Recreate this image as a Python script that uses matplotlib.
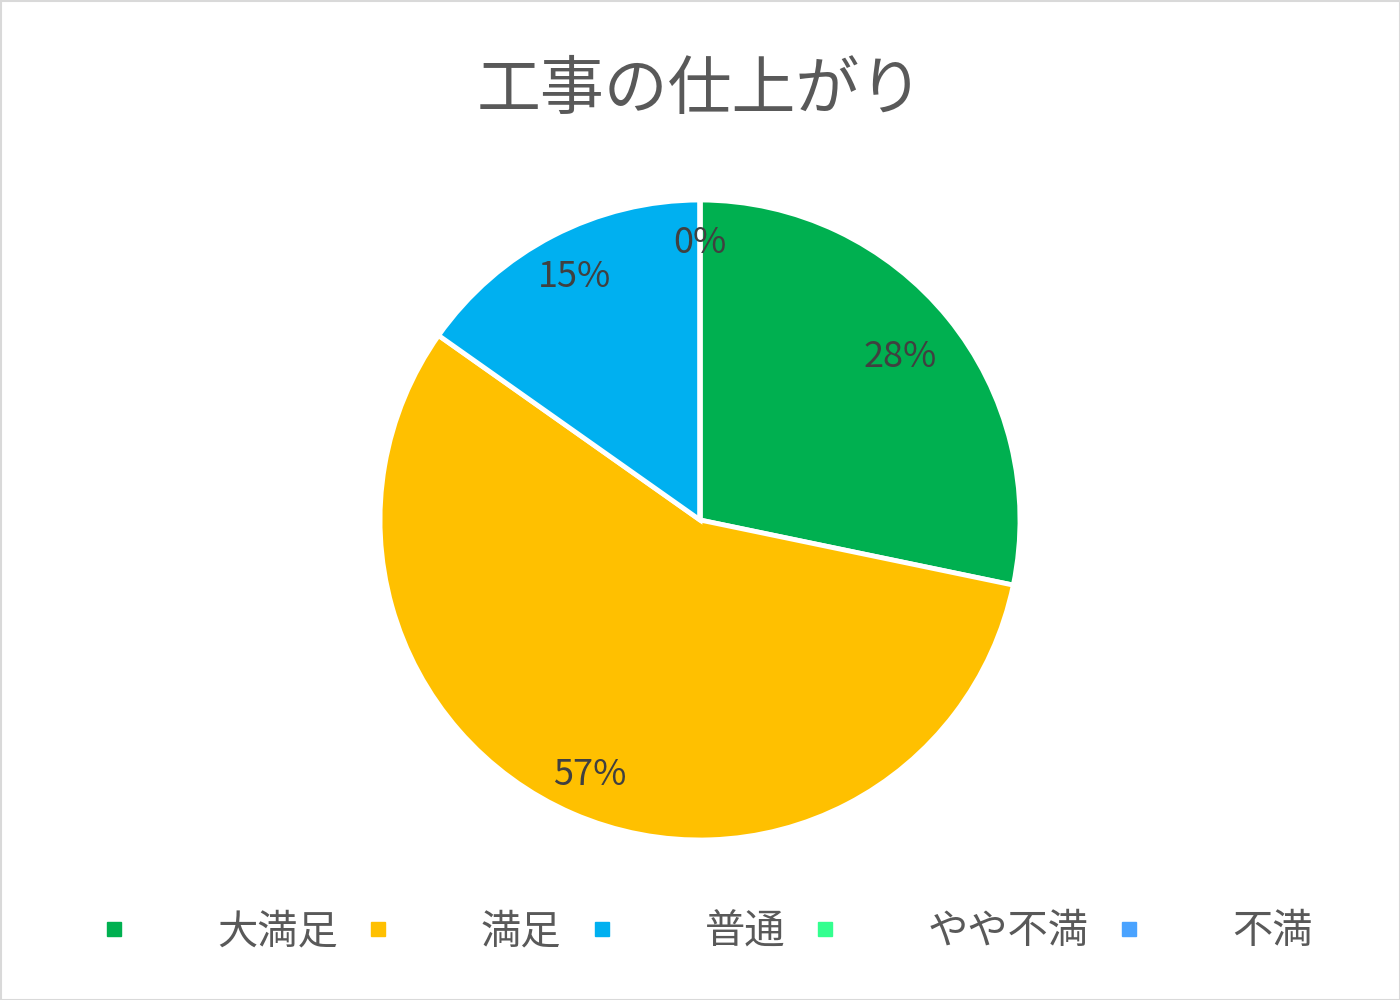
import numpy as np
import matplotlib
matplotlib.use("Agg")
import matplotlib.pyplot as plt
from matplotlib.lines import Line2D
from matplotlib.patches import Rectangle

plt.rcParams['font.family'] = ['Noto Sans CJK JP', 'DejaVu Sans']

title = "工事の仕上がり"
categories = ["大満足", "満足", "普通", "やや不満", "不満"]
counts = [13, 26, 7, 0, 0]
colors = ["#00B050", "#FFC000", "#00B0F0", "#33FF8F", "#4AA3FF"]
label_dist = [0.805, 0.868, 0.855, 0.865, 0.865]

fig = plt.figure(figsize=(14, 10), dpi=100)
ax = fig.add_axes([0, 0, 1, 1])

cx, cy, R = 700, 480, 320
wedges, _ = ax.pie(counts, colors=colors, startangle=90, counterclock=False,
                   center=(cx, cy), radius=R,
                   wedgeprops=dict(edgecolor='white', linewidth=3.5),
                   frame=True)
ax.set_xlim(0, 1400)
ax.set_ylim(0, 1000)
ax.axis('off')

total = sum(counts)
shown = set()
for w, c, d in zip(wedges, counts, label_dist):
    mid = np.deg2rad((w.theta1 + w.theta2) / 2)
    x = cx + d * R * np.cos(mid)
    y = cy + d * R * np.sin(mid)
    key = (round(x), round(y))
    if key in shown:
        continue
    shown.add(key)
    ax.text(x, y, f"{round(100 * c / total)}%", ha='center', va='center',
            fontsize=26, color='#404040')

ax.text(700, 909, title, ha='center', va='center', fontsize=46, color='#595959')

handles = [Line2D([], [], linestyle='none', marker='s', markersize=10.5,
                  markerfacecolor=col, markeredgecolor=col) for col in colors]
leg = fig.legend(handles, categories, loc='center', bbox_to_anchor=(0.506, 0.068),
                 ncol=5, frameon=False, fontsize=29, handlelength=0.5,
                 handletextpad=2.3, columnspacing=0.75, labelcolor='#595959')

fig.patches.append(Rectangle((0.5 / 1400, 0.5 / 1000), 1 - 1 / 1400, 1 - 1 / 1000,
                             transform=fig.transFigure, fill=False,
                             edgecolor='#D9D9D9', linewidth=1.5))

fig.savefig("out.png", dpi=100, facecolor='white')
